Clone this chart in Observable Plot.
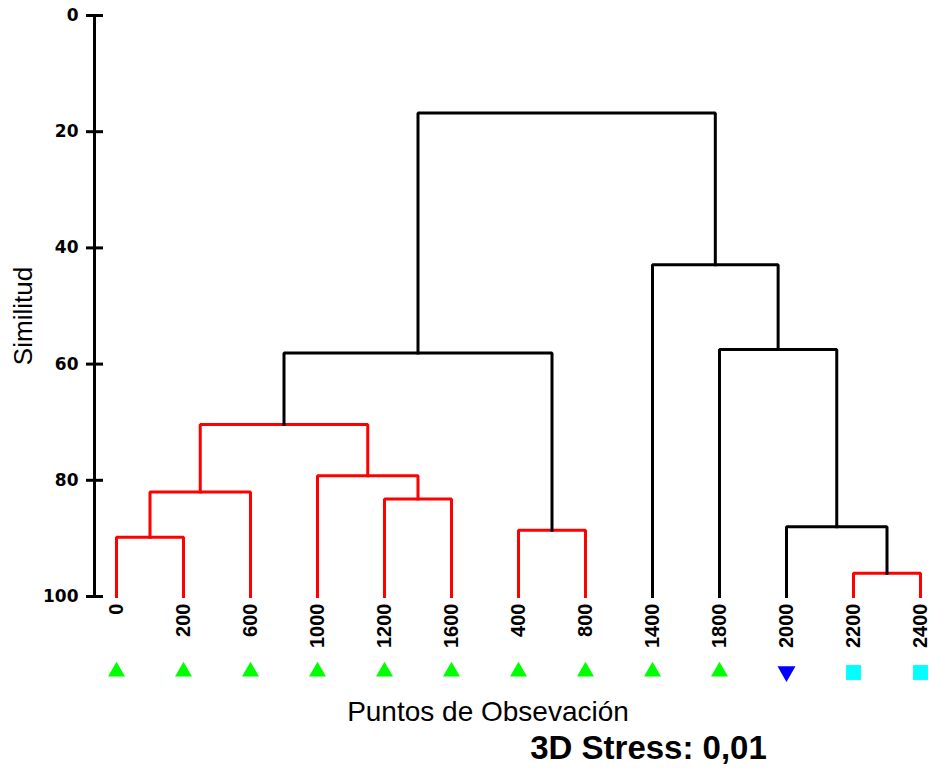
<!DOCTYPE html>
<html><head><meta charset="utf-8">
<script src="https://cdn.jsdelivr.net/npm/d3@7"></script>
<script src="https://cdn.jsdelivr.net/npm/@observablehq/plot@0.6"></script>
<style>body{margin:0;background:#fff}</style>
</head><body><div id="chart"></div>
<script>
// Leaves (observation points), in dendrogram order
const leaves = ["0","200","600","1000","1200","1600","400","800","1400","1800","2000","2200","2400"];
const leafSymbol = ["up","up","up","up","up","up","up","up","up","up","down","square","square"];
const leafColor = ["#00ff00","#00ff00","#00ff00","#00ff00","#00ff00","#00ff00","#00ff00","#00ff00","#00ff00","#00ff00","#0000ff","#00ffff","#00ffff"];
// Merges: node ids 0..12 are leaves, merge k creates node 13+k
const mergeLeft   = [0, 13, 4, 3, 14, 6, 17, 11, 10, 9, 8, 19];
const mergeRight  = [1, 2, 5, 15, 16, 7, 18, 12, 20, 21, 22, 23];
const mergeHeight = [89.8, 82.0, 83.2, 79.2, 70.4, 88.6, 58.1, 96.0, 88.0, 57.5, 42.9, 16.8];
const mergeColor  = ["red","red","red","red","red","red","black","red","black","black","black","black"];
const yTicks = [0, 20, 40, 60, 80, 100];
const leafBase = 100;

// build node positions
const pos = leaves.map((d, i) => i);
const ht = leaves.map(() => leafBase);
const paths = [];
mergeLeft.forEach((l, k) => {
  const r = mergeRight[k], h = mergeHeight[k], c = mergeColor[k] === "red" ? "#ff0000" : "#000000";
  paths.push({id: k, x: pos[l], y: ht[l], c});
  paths.push({id: k, x: pos[l], y: h, c});
  paths.push({id: k, x: pos[r], y: h, c});
  paths.push({id: k, x: pos[r], y: ht[r], c});
  pos.push((pos[l] + pos[r]) / 2);
  ht.push(h);
});

const leafData = leaves.map((d, i) => ({i, label: d, sym: leafSymbol[i], color: leafColor[i]}));
const sqrt3 = Math.sqrt(3);
const triDown = {draw(ctx, size) {
  const y = -Math.sqrt(size / (sqrt3 * 3));
  ctx.moveTo(0, -y * 2);
  ctx.lineTo(-sqrt3 * y, y);
  ctx.lineTo(sqrt3 * y, y);
  ctx.closePath();
}};
const xMin = -22 / 67;

const chart = Plot.plot({
  width: 936, height: 772,
  marginLeft: 94, marginRight: 16, marginTop: 15, marginBottom: 176,
  style: {fontFamily: "'Liberation Sans', Arial, sans-serif", background: "#fff", color: "#000", overflow: "visible"},
  x: {domain: [xMin, leaves.length - 1], axis: null},
  y: {domain: [0, 100], reverse: true, axis: null},
  color: {type: "identity"},
  marks: [
    Plot.ruleX([xMin], {y1: 0, y2: 100, stroke: "#000", strokeWidth: 3}),
    Plot.axisY({ticks: yTicks, tickSize: 17, tickPadding: 8, dx: 9, strokeWidth: 3, label: null,
      fontSize: 17, fontWeight: "bold", fontFamily: "'DejaVu Sans', Verdana, sans-serif"}),
    Plot.line(paths, {x: "x", y: "y", z: "id", stroke: "c", strokeWidth: 3, strokeLinejoin: "miter", strokeLinecap: "square"}),
    Plot.text(leafData, {x: "i", y: () => leafBase, text: "label", rotate: -90, textAnchor: "end", dy: 7,
      fontSize: 20, fontWeight: "bold"}),
    Plot.dot(leafData.filter(d => d.sym === "up"), {x: "i", y: () => leafBase, dy: 75, symbol: "triangle", r: 6.3, fill: "color", stroke: null}),
    Plot.dot(leafData.filter(d => d.sym === "down"), {x: "i", y: () => leafBase, dy: 75, symbol: triDown, r: 6.7, fill: "color", stroke: null}),
    Plot.dot(leafData.filter(d => d.sym === "square"), {x: "i", y: () => leafBase, dy: 76, symbol: "square", r: 8.4, fill: "color", stroke: null}),
    Plot.text(["Similitud"], {frameAnchor: "left", rotate: -90, dx: -71, dy: 10, fontSize: 26, textAnchor: "middle", lineAnchor: "middle"}),
    Plot.text(["Puntos de Obsevación"], {frameAnchor: "bottom", dx: -19.5, dy: 116, fontSize: 28, textAnchor: "middle", lineAnchor: "middle"}),
    Plot.text(["3D Stress: 0,01"], {frameAnchor: "bottom", dx: 141, dy: 152, fontSize: 33, fontWeight: "bold", textAnchor: "middle", lineAnchor: "middle"})
  ]
});
document.getElementById("chart").appendChild(chart);
</script>
</body></html>
